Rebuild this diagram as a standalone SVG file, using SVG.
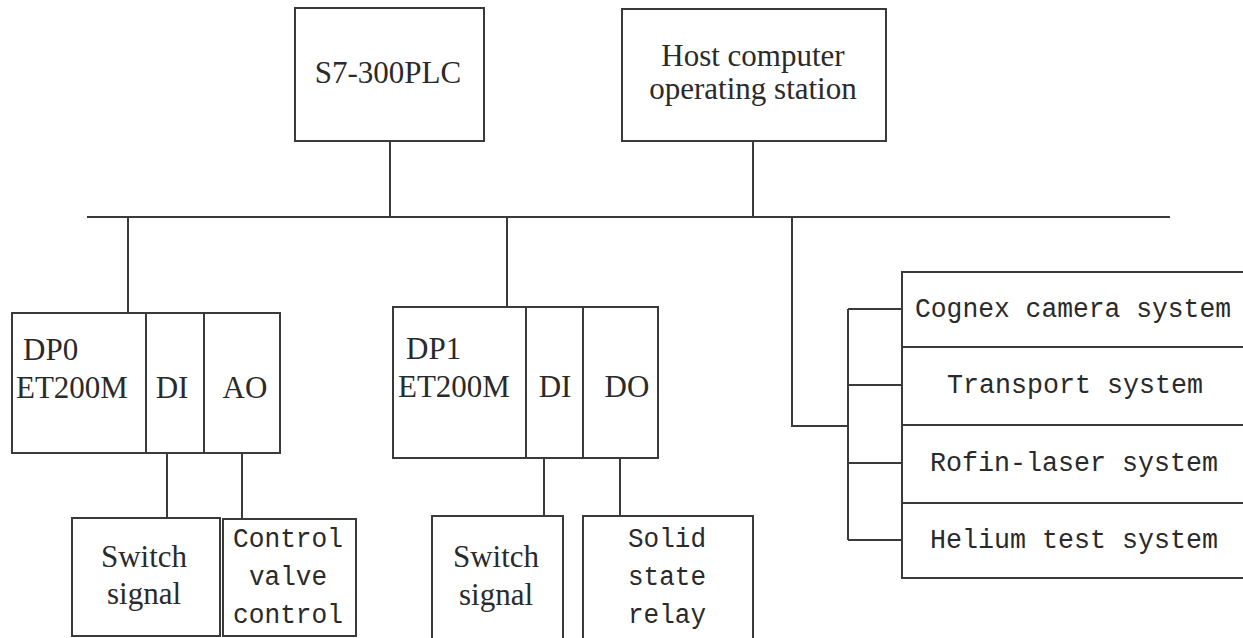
<svg xmlns="http://www.w3.org/2000/svg" width="1243" height="638" viewBox="0 0 1243 638">
<style>
.box{fill:#fff;stroke:#3a3a3a;stroke-width:2}
.ln{fill:none;stroke:#3a3a3a;stroke-width:2}
.t{font-family:"Liberation Serif","Times New Roman",serif;font-size:31px;fill:#2a2a2a}
.m{font-family:"Liberation Mono","Courier New",monospace;font-size:27px;fill:#2a2a2a}
.c{text-anchor:middle}
</style>
<rect width="1243" height="638" fill="#fff"/>
<g id="connectors">
<line class="ln" x1="87" y1="217" x2="1170" y2="217"/>
<line class="ln" x1="390" y1="141" x2="390" y2="217"/>
<line class="ln" x1="753" y1="141" x2="753" y2="217"/>
<line class="ln" x1="128" y1="217" x2="128" y2="313"/>
<line class="ln" x1="507" y1="217" x2="507" y2="307"/>
<polyline class="ln" points="792,217 792,426 848,426"/>
<line class="ln" x1="848" y1="309" x2="848" y2="540"/>
<line class="ln" x1="848" y1="309" x2="902" y2="309"/>
<line class="ln" x1="848" y1="385" x2="902" y2="385"/>
<line class="ln" x1="848" y1="463" x2="902" y2="463"/>
<line class="ln" x1="848" y1="540" x2="902" y2="540"/>
<line class="ln" x1="167" y1="453" x2="167" y2="518"/>
<line class="ln" x1="242" y1="453" x2="242" y2="520"/>
<line class="ln" x1="544" y1="458" x2="544" y2="516"/>
<line class="ln" x1="620" y1="458" x2="620" y2="516"/>
</g>
<g id="s7plc">
<rect class="box" x="295" y="8" width="189" height="133"/>
<text class="t c" x="388" y="83">S7-300PLC</text>
</g>
<g id="host">
<rect class="box" x="622" y="9" width="264" height="132"/>
<text class="t c" x="753" y="66">Host computer</text>
<text class="t c" x="753" y="99">operating station</text>
</g>
<g id="dp0">
<rect class="box" x="12" y="313" width="268" height="140"/>
<line class="ln" x1="146" y1="313" x2="146" y2="453"/>
<line class="ln" x1="204" y1="313" x2="204" y2="453"/>
<text class="t" x="23" y="360">DP0</text>
<text class="t" x="16" y="398">ET200M</text>
<text class="t c" x="172" y="398">DI</text>
<text class="t c" x="245" y="398">AO</text>
</g>
<g id="dp1">
<rect class="box" x="393" y="307" width="265" height="151"/>
<line class="ln" x1="526" y1="307" x2="526" y2="458"/>
<line class="ln" x1="583" y1="307" x2="583" y2="458"/>
<text class="t" x="406" y="359">DP1</text>
<text class="t" x="398" y="397">ET200M</text>
<text class="t c" x="555" y="397">DI</text>
<text class="t c" x="627" y="397">DO</text>
</g>
<g id="switch0">
<rect class="box" x="72" y="518" width="148" height="118"/>
<text class="t c" x="144" y="567">Switch</text>
<text class="t c" x="144" y="604">signal</text>
</g>
<g id="valve">
<rect class="box" x="223" y="519" width="133" height="117"/>
<text class="m c" x="288" y="547" textLength="110" lengthAdjust="spacingAndGlyphs">Control</text>
<text class="m c" x="288" y="585" textLength="78" lengthAdjust="spacingAndGlyphs">valve</text>
<text class="m c" x="288" y="623" textLength="110" lengthAdjust="spacingAndGlyphs">control</text>
</g>
<g id="switch1">
<rect class="box" x="432" y="516" width="131" height="140"/>
<text class="t c" x="496" y="567">Switch</text>
<text class="t c" x="496" y="605">signal</text>
</g>
<g id="ssr">
<rect class="box" x="583" y="516" width="170" height="140"/>
<text class="m c" x="667" y="547" textLength="78" lengthAdjust="spacingAndGlyphs">Solid</text>
<text class="m c" x="667" y="585" textLength="78" lengthAdjust="spacingAndGlyphs">state</text>
<text class="m c" x="667" y="623" textLength="78" lengthAdjust="spacingAndGlyphs">relay</text>
</g>
<g id="cognex">
<path class="ln" d="M1243,272 H902 V347 H1243"/>
<text class="m c" x="1073" y="317" textLength="316" lengthAdjust="spacingAndGlyphs">Cognex camera system</text>
</g>
<g id="transport">
<path class="ln" d="M1243,347 H902 V425 H1243"/>
<text class="m c" x="1075" y="393" textLength="256" lengthAdjust="spacingAndGlyphs">Transport system</text>
</g>
<g id="rofin">
<path class="ln" d="M1243,425 H902 V503 H1243"/>
<text class="m c" x="1074" y="471" textLength="288" lengthAdjust="spacingAndGlyphs">Rofin-laser system</text>
</g>
<g id="helium">
<path class="ln" d="M1243,503 H902 V578 H1243"/>
<text class="m c" x="1074" y="548" textLength="288" lengthAdjust="spacingAndGlyphs">Helium test system</text>
</g>
</svg>
